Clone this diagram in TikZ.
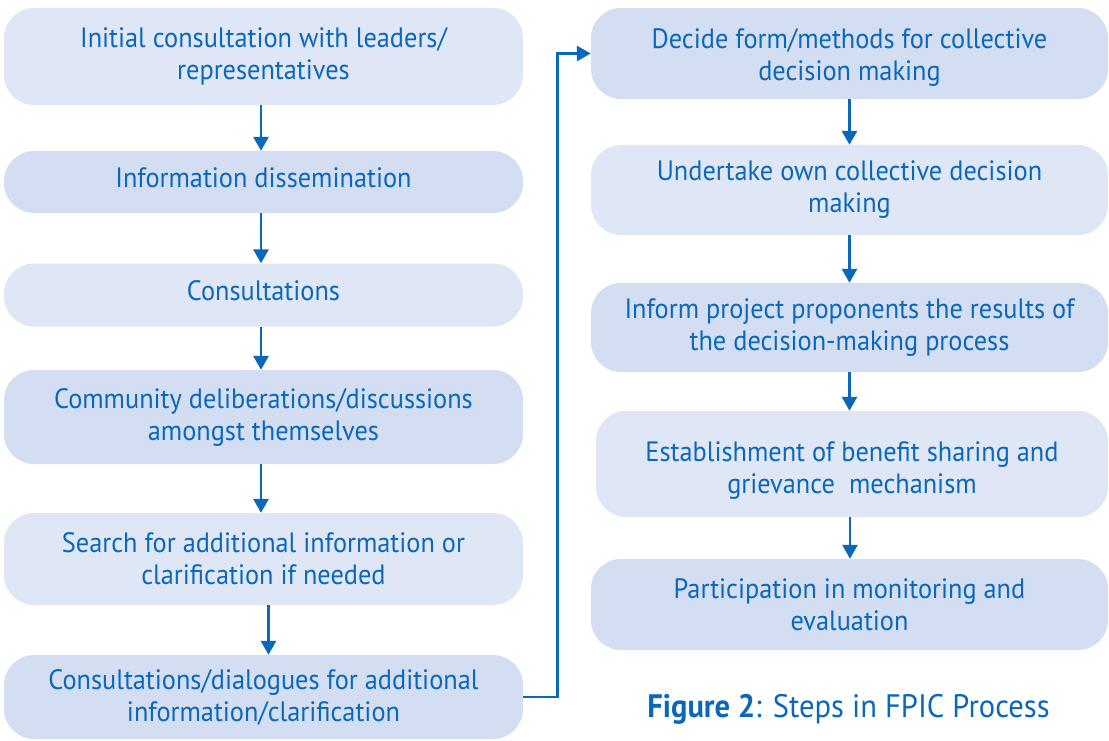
\documentclass[tikz,border=0pt]{standalone}
\usepackage{fontspec}
\setmainfont[FakeStretch=0.94]{PT Sans}
\usepackage{xcolor}
\usetikzlibrary{positioning,calc,arrows.meta}
\definecolor{stepblue}{HTML}{0B67B8}
\definecolor{boxlight}{HTML}{DFE6F5}
\definecolor{boxdark}{HTML}{D3DEF2}
\begin{document}
\begin{tikzpicture}[x=1pt,y=-1pt,
    stepbox/.style={rounded corners=30pt, minimum width=519pt, inner sep=0pt,
        text=stepblue, align=center, font=\fontsize{28}{32}\selectfont},
    light/.style={stepbox, fill=boxlight},
    dark/.style={stepbox, fill=boxdark},
    oneline/.style={text height=20pt, text depth=9pt},
    flow/.style={stepblue, line width=2.8pt, -{Triangle[width=15pt,length=14pt]}}]
    \useasboundingbox (0,0) rectangle (1109,741);

    % Left column
    \node[light, minimum height=97pt] (init) at (263.5,56.5) {Initial consultation with leaders/\\representatives};
    \node[dark, oneline, minimum height=62pt] (dissem) at (263.5,182) {Information dissemination};
    \node[light, oneline, minimum height=63pt] (consult) at (263.5,295) {Consultations};
    \node[dark, minimum height=94pt] (delib) at (263.5,417) {Community deliberations/discussions\\amongst themselves};
    \node[light, minimum height=92pt] (search) at (263.5,559) {Search for additional information or\\clarification if needed};
    \node[dark, minimum height=84pt] (dialog) at (263.5,697) {Consultations/dialogues for additional\\information/clarification};

    % Right column
    \node[dark, minimum width=517pt, minimum height=91pt] (decide) at (849.5,53.5) {\rule{0pt}{28pt}Decide form/methods for collective\\decision making};
    \node[light, minimum width=517pt, minimum height=90pt] (own) at (849.5,190) {Undertake own collective decision\\making};
    \node[dark, minimum width=517pt, minimum height=89pt] (inform) at (849.5,327.5) {Inform project proponents the results of\\the decision-making process};
    \node[light, minimum width=512pt, minimum height=106pt] (benefit) at (852,464) {\rule{0pt}{32pt}Establishment of benefit sharing and\\grievance\ \ mechanism};
    \node[dark, minimum width=517pt, minimum height=91pt] (monitor) at (849.5,604.5) {Participation in monitoring and\\evaluation};

    % Arrows
    \draw[flow] ([xshift=-2.5pt]init.south) -- ([xshift=-2.5pt]init.south |- dissem.north);
    \draw[flow] ([xshift=-2.5pt]dissem.south) -- ([xshift=-2.5pt]dissem.south |- consult.north);
    \draw[flow] ([xshift=-2.5pt]consult.south) -- ([xshift=-2.5pt]consult.south |- delib.north);
    \draw[flow] ([xshift=-2.5pt]delib.south) -- ([xshift=-2.5pt]delib.south |- search.north);
    \draw[flow] ([xshift=5pt]search.south) -- ([xshift=5pt]search.south |- dialog.north);
    \draw[flow] (dialog.east) -- ++(34,0) |- (decide.west);
    \draw[flow] (decide.south) -- (decide.south |- own.north);
    \draw[flow] (own.south) -- (own.south |- inform.north);
    \draw[flow] (inform.south) -- (inform.south |- benefit.north);
    \draw[flow] ([xshift=-2pt]benefit.south) -- ([xshift=-2pt]benefit.south |- monitor.north);

    % Caption
    \node[stepblue, anchor=base, font=\fontsize{32.5}{38}\selectfont] (caption) at (848.5,717) {\textbf{Figure 2}: Steps in FPIC Process};
\end{tikzpicture}
\end{document}
